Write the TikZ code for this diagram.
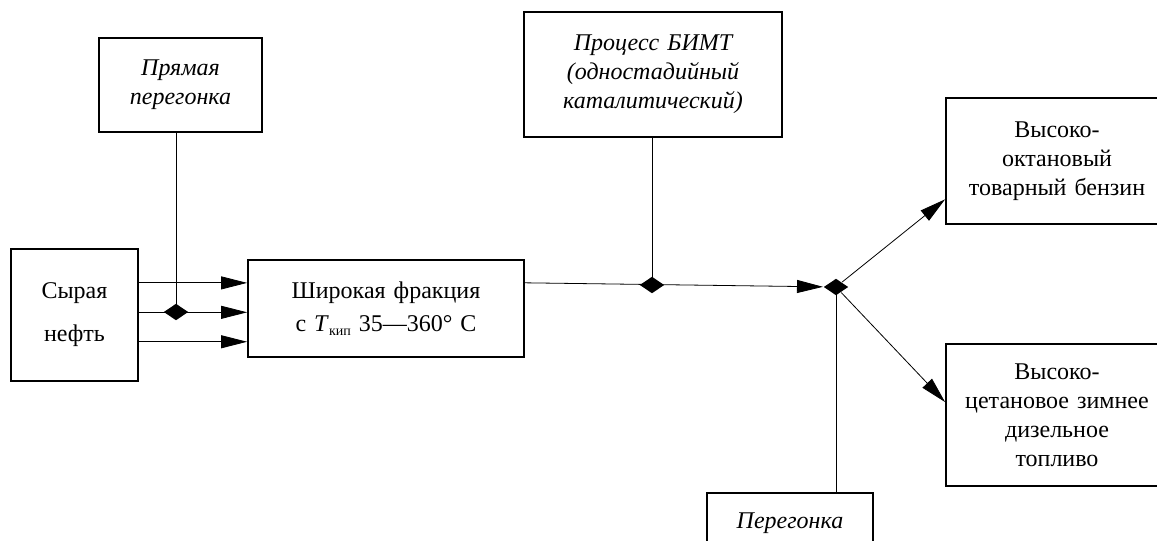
\documentclass[tikz,border=0pt]{standalone}
\usepackage{fontspec}
\setmainfont{Liberation Serif}
\usepackage{tikz}
\usetikzlibrary{arrows.meta,shapes.geometric,calc,positioning}
\pgfdeclarelayer{bg}
\pgfsetlayers{bg,main}

\begin{document}
\begin{tikzpicture}[>={Triangle[length=13pt,width=6.5pt]},
	x=0.5pt, y=-0.5pt, line width=0.75pt,
	font=\fontsize{12}{14.5}\selectfont]

	\tikzstyle{blk}=[rectangle, draw, line width=0.9pt, inner sep=0pt,
	align=center]
	\tikzstyle{knot}=[diamond, fill=black, draw=none, inner sep=0pt,
	minimum width=12.5pt, minimum height=8.5pt]

	\useasboundingbox (0,0) rectangle (1157,541);

	%raw material
	\node[blk, text width=63.5pt, minimum height=66pt]
	(crude) at (74.5,315)
	{Сырая\\[7pt]нефть\par\vspace*{4pt}};

	\node[blk, text width=81.5pt, minimum height=47pt]
	(straight) at (180.5,85)
	{\itshape Прямая\\перегонка\par\vspace*{7pt}};

	\node[blk, text width=138pt, minimum height=48.5pt]
	(wide) at (386,308.5)
	{Широкая фракция\\[2pt]с \textit{T}\raisebox{-0.4ex}{\scriptsize кип} 35—360° С\par\vspace*{14pt}};

	%process
	\node[blk, text width=129pt, minimum height=62.5pt]
	(bimt) at (653,74.5)
	{\itshape Процесс БИМТ\\(одностадийный\\каталитический)\par\vspace*{7.5pt}};

	\node[blk, text width=83pt, minimum height=30pt]
	(distil) at (790,523)
	{\itshape Перегонка\par\vspace*{5pt}};

	%products
	\node[blk, text width=111pt, minimum height=63pt]
	(oct) at (1057,161)
	{Высоко-\\октановый\\товарный бензин\par\vspace*{11pt}};

	\node[blk, text width=111pt, minimum height=71pt]
	(die) at (1057,415)
	{Высоко-\\цетановое зимнее\\дизельное\\топливо};

	%junctions
	\node[knot] (k0) at (176,312) {};
	\node[knot] (k1) at (652,285) {};
	\node[knot] (k2) at (836,287) {};

	\begin{pgfonlayer}{bg}
	\foreach \f in {0.26,0.48,0.70}
		\draw[->] ($(crude.north east)!\f!(crude.south east)$) coordinate (p)
			-- (wide.west |- p);

	\draw (k0 |- straight.south) -- (k0.center);
	\draw (k1 |- bimt.south) -- (k1.center);

	\draw[->] ($(wide.north east)!0.24!(wide.south east)$) -- (k2);
	\draw (k2.center) -- (k2 |- distil.north);

	\draw[->] (k2) -- ($(oct.south west)!0.2!(oct.north west)$);
	\draw[->] (k2) -- ($(die.north west)!0.41!(die.south west)$);
	\end{pgfonlayer}

\end{tikzpicture}
\end{document}
